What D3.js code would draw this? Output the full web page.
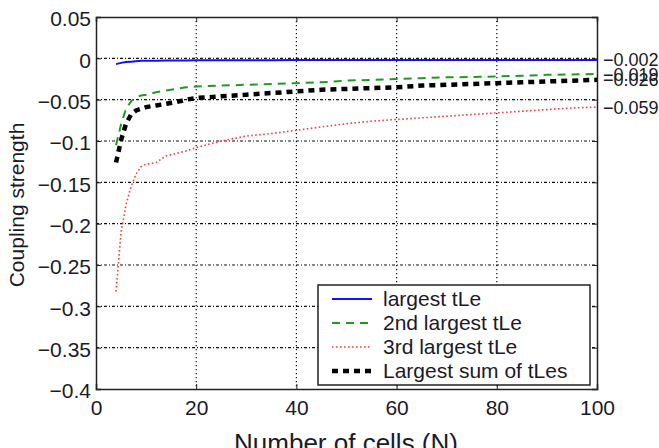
<!DOCTYPE html>
<html>
<head>
<meta charset="utf-8">
<script src="https://cdn.jsdelivr.net/npm/d3@7"></script>
<style>
  body { margin: 0; background: #fff; }
  svg { display: block; font-family: Arial, "Liberation Sans", sans-serif; }
  .axis path, .axis line { stroke: #222; }
  .axis text { fill: #1a1a2a; font-size: 21px; }
</style>
</head>
<body>
<svg id="chart" width="659" height="448"></svg>
<script>
// number of cells
var cells = [4, 5, 6, 7, 8, 9, 10, 12, 14, 16, 18, 20, 25, 30, 35, 40, 45, 50, 55, 60, 65, 70, 75, 80, 85, 90, 95, 100];

// coupling strength per series
var largest = [-0.007, -0.0055, -0.0045, -0.004, -0.0035, -0.003, -0.003, -0.0028, -0.0026, -0.0025, -0.0025, -0.0024, -0.0023, -0.0022, -0.0022, -0.0021, -0.0021, -0.0021, -0.0021, -0.002, -0.002, -0.002, -0.002, -0.002, -0.002, -0.002, -0.002, -0.002];
var second = [-0.105, -0.08, -0.061, -0.052, -0.047, -0.045, -0.044, -0.041, -0.039, -0.037, -0.035, -0.034, -0.033, -0.032, -0.031, -0.030, -0.029, -0.027, -0.026, -0.025, -0.024, -0.023, -0.0225, -0.022, -0.021, -0.020, -0.0195, -0.019];
var third = [-0.282, -0.21, -0.177, -0.155, -0.14, -0.131, -0.128, -0.126, -0.118, -0.115, -0.112, -0.108, -0.100, -0.094, -0.091, -0.087, -0.083, -0.079, -0.076, -0.074, -0.072, -0.070, -0.068, -0.066, -0.064, -0.062, -0.060, -0.059];
var sumLargest = [-0.126, -0.099, -0.079, -0.068, -0.063, -0.061, -0.059, -0.057, -0.055, -0.053, -0.050, -0.048, -0.046, -0.044, -0.042, -0.040, -0.038, -0.037, -0.036, -0.035, -0.033, -0.032, -0.031, -0.030, -0.029, -0.028, -0.027, -0.026];

var seriesNames = ["largest tLe", "2nd largest tLe", "3rd largest tLe", "Largest sum of tLes"];
var xTicks = [0, 20, 40, 60, 80, 100];
var yTicks = [0.05, 0, -0.05, -0.1, -0.15, -0.2, -0.25, -0.3, -0.35, -0.4];
var endLabels = [-0.002, -0.019, -0.026, -0.059];

var svg = d3.select("#chart");
var plotL = 96, plotR = 597, plotT = 17, plotB = 389;

var x = d3.scaleLinear().domain([0, 100]).range([plotL, plotR]);
var y = d3.scaleLinear().domain([-0.4, 0.05]).range([plotB, plotT]);

// grid
svg.append("g").selectAll("line")
  .data(yTicks.filter(function(d) { return d < 0.05 && d > -0.4; }))
  .enter().append("line")
    .attr("x1", plotL).attr("x2", plotR)
    .attr("y1", function(d) { return y(d); })
    .attr("y2", function(d) { return y(d); })
    .attr("stroke", "#111").attr("stroke-width", 1.2)
    .attr("stroke-dasharray", "3,2,1,2");

svg.append("g").selectAll("line")
  .data(xTicks.filter(function(d) { return d > 0 && d < 100; }))
  .enter().append("line")
    .attr("y1", plotT).attr("y2", plotB)
    .attr("x1", function(d) { return x(d); })
    .attr("x2", function(d) { return x(d); })
    .attr("stroke", "#111").attr("stroke-width", 1.2)
    .attr("stroke-dasharray", "1.2,2.8");

// axes (ticks inside, like matlab)
svg.append("g")
  .attr("class", "axis")
  .attr("transform", "translate(0," + plotB + ")")
  .call(d3.axisBottom(x).tickValues(xTicks).tickSize(-5).tickPadding(11).tickFormat(d3.format("d")));

svg.append("g")
  .attr("class", "axis")
  .attr("transform", "translate(" + plotL + ",0)")
  .call(d3.axisLeft(y).tickValues(yTicks).tickSize(-5).tickPadding(5).tickFormat(d3.format("~g")))
  .selectAll("text").attr("dy", "0.42em");

svg.append("g")
  .attr("class", "axis")
  .attr("transform", "translate(0," + plotT + ")")
  .call(d3.axisTop(x).tickValues(xTicks).tickSize(-5).tickFormat(""));

svg.append("g")
  .attr("class", "axis")
  .attr("transform", "translate(" + plotR + ",0)")
  .call(d3.axisRight(y).tickValues(yTicks).tickSize(-5).tickFormat(""));

svg.selectAll(".axis path").attr("stroke-width", 1.5);

// lines
var styles = [
  { data: largest, color: "#1010ff", width: 2, dash: null },
  { data: second, color: "#229922", width: 2, dash: "8,6" },
  { data: third, color: "#ff3c3c", width: 1.6, dash: "1.6,2.4" },
  { data: sumLargest, color: "#000", width: 4.5, dash: "6,5" }
];

var line = d3.line()
  .x(function(d, i) { return x(cells[i]); })
  .y(function(d) { return y(d); });

styles.forEach(function(s) {
  svg.append("path")
    .datum(s.data)
    .attr("fill", "none")
    .attr("stroke", s.color)
    .attr("stroke-width", s.width)
    .attr("stroke-dasharray", s.dash)
    .attr("d", line);
});

// end value labels
svg.append("g").selectAll("text")
  .data(endLabels)
  .enter().append("text")
    .attr("x", plotR + 6)
    .attr("y", function(d) { return y(d); })
    .attr("dy", "0.36em")
    .attr("font-size", 18)
    .attr("fill", "#1a1a2a")
    .text(function(d) { return d3.format(".3f")(d); });

// legend
var lg = svg.append("g");
lg.append("rect")
  .attr("x", 318).attr("y", 285)
  .attr("width", 272).attr("height", 100)
  .attr("fill", "#fff").attr("stroke", "#222").attr("stroke-width", 1.5);

seriesNames.forEach(function(name, i) {
  var s = styles[i];
  var ly = 299 + i * 24;
  lg.append("line")
    .attr("x1", 332).attr("x2", 372)
    .attr("y1", ly).attr("y2", ly)
    .attr("stroke", s.color)
    .attr("stroke-width", s.width)
    .attr("stroke-dasharray", s.dash);
  lg.append("text")
    .attr("x", 383).attr("y", ly + 7)
    .attr("font-size", 21)
    .attr("fill", "#1a1a2a")
    .text(name);
});

// axis titles
svg.append("text")
  .attr("x", 346).attr("y", 452)
  .attr("text-anchor", "middle")
  .attr("font-size", 26)
  .attr("fill", "#1a1a2a")
  .text("Number of cells (N)");

svg.append("text")
  .attr("transform", "translate(24,205) rotate(-90)")
  .attr("text-anchor", "middle")
  .attr("font-size", 21)
  .attr("fill", "#1a1a2a")
  .text("Coupling strength");
</script>
</body>
</html>
